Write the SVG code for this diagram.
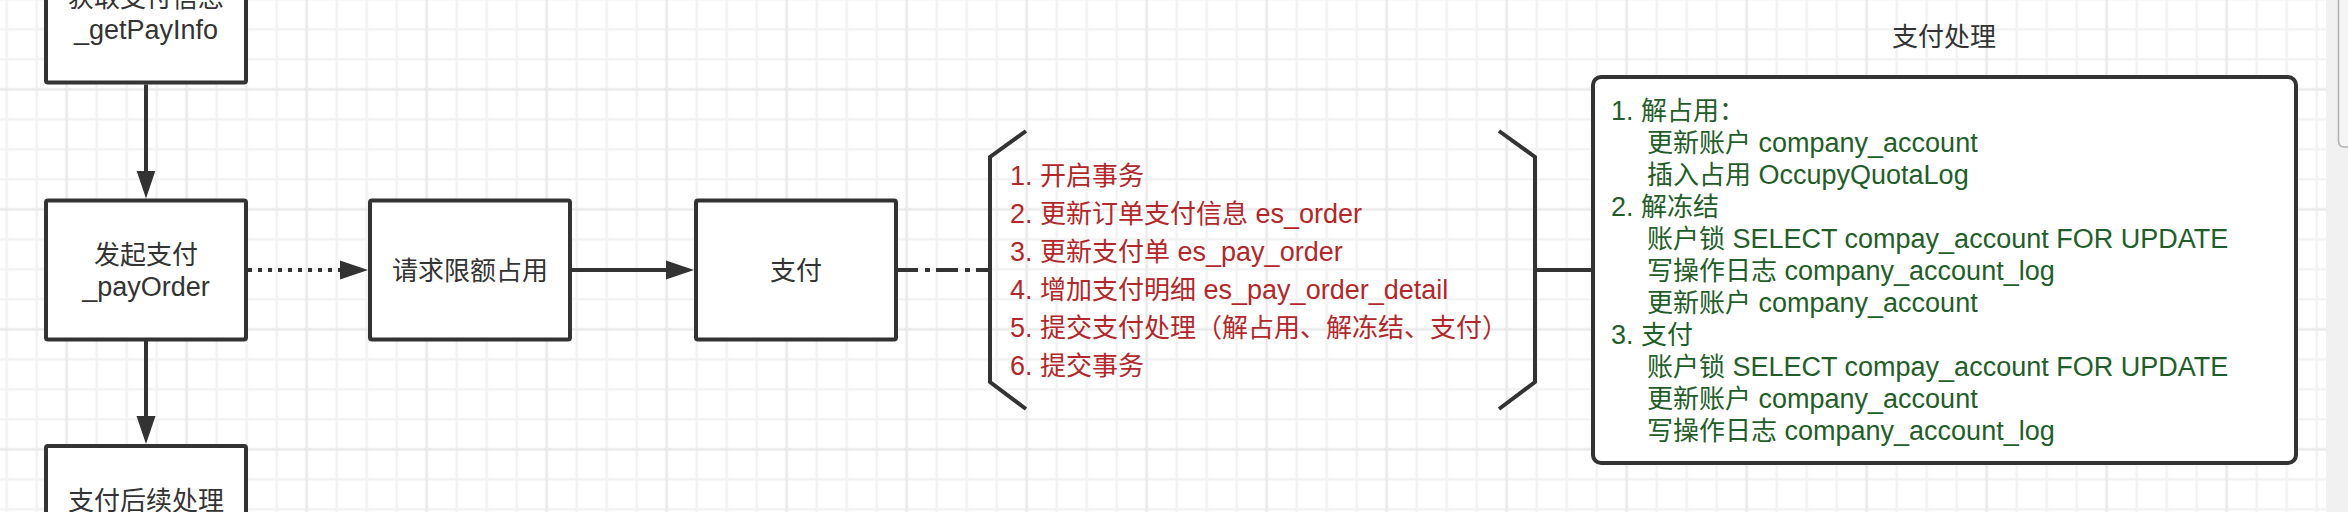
<svg xmlns="http://www.w3.org/2000/svg" width="2348" height="512" viewBox="0 0 2348 512">
<style>
.t{font-family:"Liberation Sans","Noto Sans CJK SC",sans-serif;font-size:26px;fill:#333333}
.l{font-size:27px}
.red{fill:#b3272a}
.grn{fill:#1f5e29}
.box{fill:#ffffff;stroke:#333333;stroke-width:4}
.ln{fill:none;stroke:#333333;stroke-width:4}
.mid{text-anchor:middle}
</style>
<defs>
<pattern id="grid" width="120" height="120" patternUnits="userSpaceOnUse" x="-8.33" y="14.33">
<path d="M15 0V120M45 0V120M105 0V120M0 15H120M0 45H120M0 105H120" stroke="#f2f2f2" stroke-width="2.5" fill="none"/>
<path d="M75 0V120M0 75H120" stroke="#e9e9e9" stroke-width="2.5" fill="none"/>
</pattern>
<marker id="arrow" markerUnits="userSpaceOnUse" markerWidth="30" markerHeight="20" refX="2" refY="10" orient="auto">
<path d="M0 0.5L28 10L0 19.5Z" fill="#333333"/>
</marker>
</defs>
<g id="background">
<rect x="0" y="0" width="2348" height="512" fill="#ffffff"/>
<rect x="0" y="0" width="2326" height="512" fill="url(#grid)"/>
<rect x="2326" y="0" width="22" height="512" fill="#f1f1f1"/>
<path d="M2338.5 -2V141Q2338.5 147 2344.5 147H2350V-2Z" fill="#f5f5f5" stroke="#b0b0b0" stroke-width="1.5"/>
</g>
<g id="connectors">
<line class="ln" x1="146" y1="84.5" x2="146" y2="172.5" marker-end="url(#arrow)"/>
<line class="ln" x1="146" y1="341" x2="146" y2="418" marker-end="url(#arrow)"/>
<line class="ln" x1="248" y1="270" x2="342" y2="270" stroke-dasharray="4 6" marker-end="url(#arrow)"/>
<line class="ln" x1="572" y1="270" x2="668" y2="270" marker-end="url(#arrow)"/>
<line class="ln" x1="896" y1="270" x2="990" y2="270" stroke-dasharray="22 7 5 6"/>
<line class="ln" x1="1535" y1="270" x2="1593" y2="270"/>
</g>
<g id="node-getPayInfo">
<rect class="box" x="46" y="-56.5" width="200" height="139" rx="2"/>
<text class="t mid" x="146" y="7">获取支付信息</text>
<text class="t mid l" x="146" y="39">_getPayInfo</text>
</g>
<g id="node-payOrder">
<rect class="box" x="46" y="200.5" width="200" height="139" rx="2"/>
<text class="t mid" x="146" y="264">发起支付</text>
<text class="t mid l" x="146" y="296">_payOrder</text>
</g>
<g id="node-afterPay">
<rect class="box" x="46" y="446" width="200" height="139" rx="2"/>
<text class="t mid" x="146" y="510">支付后续处理</text>
</g>
<g id="node-quota">
<rect class="box" x="370" y="200.5" width="200" height="139" rx="2"/>
<text class="t mid" x="470" y="280">请求限额占用</text>
</g>
<g id="node-pay">
<rect class="box" x="696" y="200.5" width="200" height="139" rx="2"/>
<text class="t mid" x="796" y="280">支付</text>
</g>
<g id="node-steps">
<path class="ln" d="M1026 131L990 157V382L1026 409"/>
<path class="ln" d="M1499 131L1535 157V382L1499 409"/>
<text class="t red" x="1010" y="185"><tspan class="l">1. </tspan>开启事务</text>
<text class="t red" x="1010" y="223"><tspan class="l">2. </tspan>更新订单支付信息<tspan class="l"> es_order</tspan></text>
<text class="t red" x="1010" y="261"><tspan class="l">3. </tspan>更新支付单<tspan class="l"> es_pay_order</tspan></text>
<text class="t red" x="1010" y="299"><tspan class="l">4. </tspan>增加支付明细<tspan class="l"> es_pay_order_detail</tspan></text>
<text class="t red" x="1010" y="337"><tspan class="l">5. </tspan>提交支付处理（解占用、解冻结、支付）</text>
<text class="t red" x="1010" y="375"><tspan class="l">6. </tspan>提交事务</text>
</g>
<g id="node-payProcess">
<text class="t mid" x="1944" y="46">支付处理</text>
<rect class="box" x="1593" y="77" width="703" height="386" rx="8"/>
<text class="t grn" x="1611" y="120"><tspan class="l">1. </tspan>解占用：</text>
<text class="t grn" x="1647" y="152">更新账户<tspan class="l"> company_account</tspan></text>
<text class="t grn" x="1647" y="184">插入占用<tspan class="l"> OccupyQuotaLog</tspan></text>
<text class="t grn" x="1611" y="216"><tspan class="l">2. </tspan>解冻结</text>
<text class="t grn" x="1647" y="248">账户锁<tspan class="l"> SELECT compay_account FOR UPDATE</tspan></text>
<text class="t grn" x="1647" y="280">写操作日志<tspan class="l"> company_account_log</tspan></text>
<text class="t grn" x="1647" y="312">更新账户<tspan class="l"> company_account</tspan></text>
<text class="t grn" x="1611" y="344"><tspan class="l">3. </tspan>支付</text>
<text class="t grn" x="1647" y="376">账户锁<tspan class="l"> SELECT compay_account FOR UPDATE</tspan></text>
<text class="t grn" x="1647" y="408">更新账户<tspan class="l"> company_account</tspan></text>
<text class="t grn" x="1647" y="440">写操作日志<tspan class="l"> company_account_log</tspan></text>
</g>
</svg>
